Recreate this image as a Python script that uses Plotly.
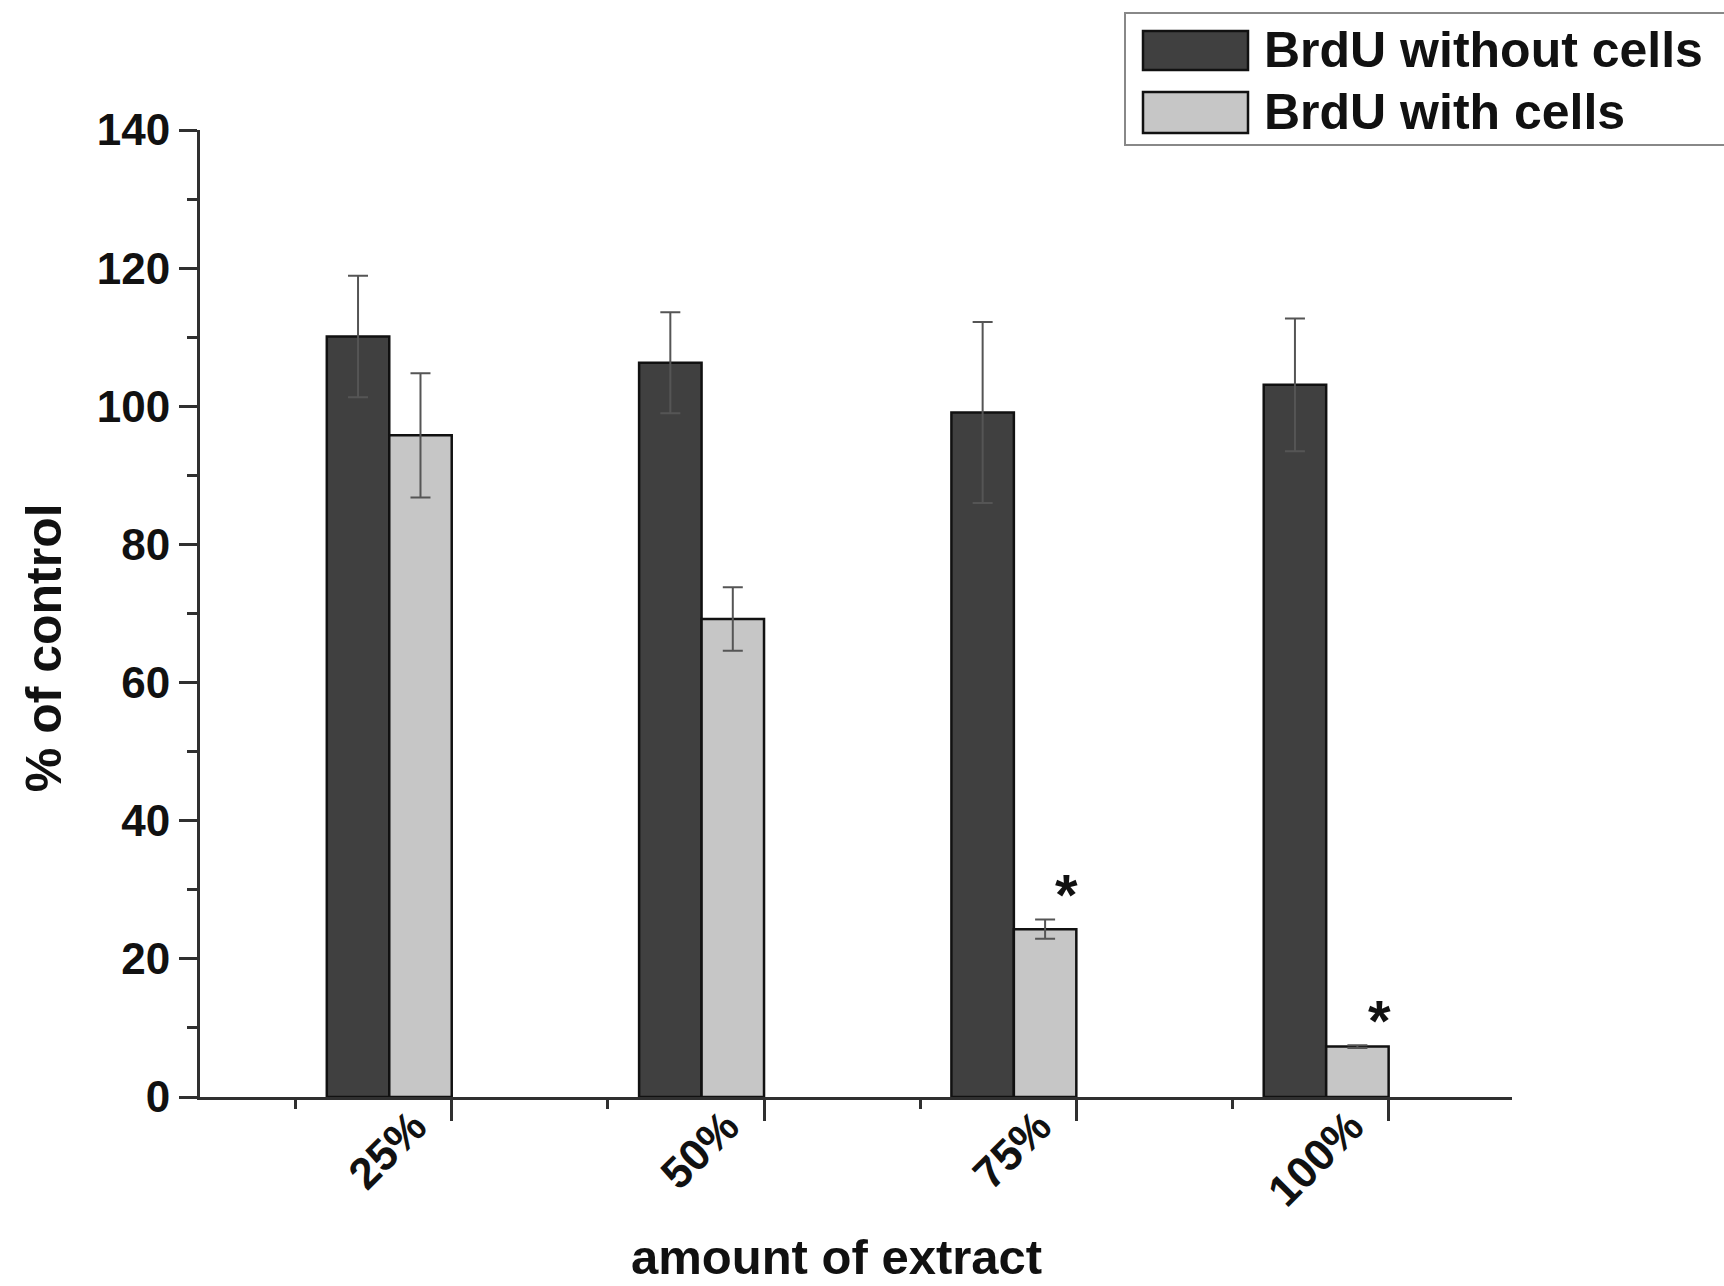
import plotly.graph_objects as go

# Data: BrdU signal as % of control for each extract amount
categories = ["25%", "50%", "75%", "100%"]
positions = [1, 2, 3, 4]
without_cells = [110.1, 106.3, 99.1, 103.1]
without_cells_err = [8.8, 7.3, 13.1, 9.6]
with_cells = [95.8, 69.2, 24.3, 7.3]
with_cells_err = [9.0, 4.6, 1.4, 0.2]
significant = [False, False, True, True]
y_major = [0, 20, 40, 60, 80, 100, 120, 140]
y_minor = [10, 30, 50, 70, 90, 110, 130]

DARK = "#404040"
LIGHT = "#c6c6c6"
AXIS = "#303030"
BOLD = "Liberation Sans"

fig = go.Figure()

fig.add_trace(go.Bar(
    x=positions, y=without_cells, name="BrdU without cells",
    marker=dict(color=DARK, line=dict(color="#111111", width=2.5)),
    error_y=dict(type="data", array=without_cells_err, color="#555555",
                 thickness=2, width=10),
))
fig.add_trace(go.Bar(
    x=positions, y=with_cells, name="BrdU with cells",
    marker=dict(color=LIGHT, line=dict(color="#111111", width=2.5)),
    error_y=dict(type="data", array=with_cells_err, color="#555555",
                 thickness=2, width=10),
))

# Significance markers above the "with cells" bars
annotations = []
for p, v, e, s in zip(positions, with_cells, with_cells_err, significant):
    if s:
        annotations.append(dict(
            x=p + 0.17, y=v + e, xref="x", yref="y", text="<b>*</b>",
            showarrow=False, yanchor="bottom", yshift=-10,
            font=dict(family=BOLD, size=58, color="#111111"),
        ))

# Axis titles
annotations.append(dict(
    x=-0.119, y=0.465, xref="paper", yref="paper", text="<b>% of control</b>",
    textangle=-90, showarrow=False, xanchor="center", yanchor="middle",
    font=dict(family=BOLD, size=50, color="#111111"),
))
annotations.append(dict(
    x=0.485, y=-0.165, xref="paper", yref="paper", text="<b>amount of extract</b>",
    showarrow=False, xanchor="center", yanchor="middle",
    font=dict(family=BOLD, size=49, color="#111111"),
))

# Legend drawn as boxed swatches with labels
shapes = [dict(type="rect", xref="paper", yref="paper",
               x0=(1125 - 200) / 1312, x1=(1740 - 200) / 1312,
               y0=(1097 - 145) / 967, y1=(1097 - 13) / 967,
               line=dict(color="#888888", width=2), fillcolor="white", layer="above")]
legend_rows = [("BrdU without cells", DARK, 31, 70), ("BrdU with cells", LIGHT, 92, 133)]
for label, color, top, bottom in legend_rows:
    shapes.append(dict(type="rect", xref="paper", yref="paper",
                       x0=(1143 - 200) / 1312, x1=(1248 - 200) / 1312,
                       y0=(1097 - bottom) / 967, y1=(1097 - top) / 967,
                       line=dict(color="#111111", width=2.5), fillcolor=color, layer="above"))
    annotations.append(dict(
        x=(1262 - 200) / 1312, y=(1097 - (top + bottom) / 2) / 967,
        xref="paper", yref="paper", text="<b>%s</b>" % label, showarrow=False,
        xanchor="left", yanchor="middle",
        font=dict(family=BOLD, size=50, color="#111111"),
    ))

tick_font = dict(family=BOLD, size=44, color="#111111", weight="bold")

fig.update_layout(
    width=1724, height=1286,
    margin=dict(l=200, r=212, t=130, b=189),
    paper_bgcolor="white", plot_bgcolor="white",
    barmode="group", bargap=0.6, bargroupgap=0,
    showlegend=False,
    annotations=annotations, shapes=shapes,
    xaxis=dict(
        range=[0.394, 4.595],
        tickmode="array", tickvals=[p + 0.2 for p in positions], ticktext=categories,
        tickangle=-45, ticks="outside", ticklen=21, tickwidth=2.5, tickcolor=AXIS,
        ticklabelshift=-38, ticklabelstandoff=-38,
        tickfont=tick_font,
        showline=True, linecolor=AXIS, linewidth=3, showgrid=False, zeroline=False,
        minor=dict(tickmode="array", tickvals=[p - 0.3 for p in positions],
                   ticks="outside", ticklen=9, tickwidth=2.5, tickcolor=AXIS),
    ),
    yaxis=dict(
        range=[0, 140],
        tickmode="array", tickvals=y_major,
        ticks="outside", ticklen=18, tickwidth=2.5, tickcolor=AXIS,
        tickfont=tick_font,
        showline=True, linecolor=AXIS, linewidth=3, showgrid=False, zeroline=False,
        minor=dict(tickmode="array", tickvals=y_minor,
                   ticks="outside", ticklen=10, tickwidth=2.5, tickcolor=AXIS),
    ),
)

fig.write_html("out.html")
